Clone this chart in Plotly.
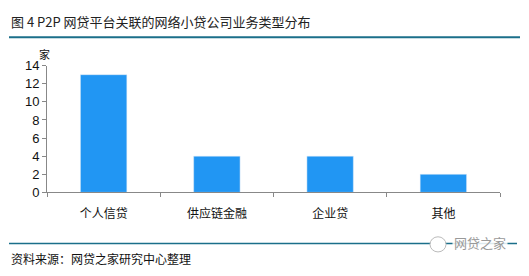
import plotly.graph_objects as go

categories = ["个人信贷", "供应链金融", "企业贷", "其他"]
values = [13, 4, 4, 2]
y_ticks = [0, 2, 4, 6, 8, 10, 12, 14]

W, H = 529, 276
def px(x): return x / W
def py(y): return 1 - y / H

CJK = "Noto Sans CJK SC"

fig = go.Figure(go.Bar(
    x=categories, y=values, marker_color="#2196F3", width=0.41,
    hoverinfo="skip"))

fig.update_layout(
    width=W, height=H, margin=dict(l=0, r=0, t=0, b=0),
    paper_bgcolor="white", plot_bgcolor="white", showlegend=False,
    xaxis=dict(domain=[px(47), px(500)], showline=True, linecolor="#888",
               linewidth=1, ticks="outside", tickson="boundaries", ticklen=4,
               tickcolor="#888", tickfont=dict(family=CJK, size=12, color="#111"),
               ticklabelstandoff=10,
               showgrid=False, fixedrange=True),
    yaxis=dict(domain=[py(196), py(62)], range=[0, 14], tickvals=y_ticks,
               showline=True, linecolor="#888", linewidth=1, ticks="outside",
               ticklen=4, tickcolor="#888", showgrid=False, zeroline=False,
               tickfont=dict(family="Liberation Sans, Arial", size=13, color="#111"),
               fixedrange=True),
)

fig.add_annotation(text="图 4 P2P 网贷平台关联的网络小贷公司业务类型分布", xref="paper", yref="paper",
                   x=px(9), y=py(15), xanchor="left", yanchor="middle", showarrow=False,
                   font=dict(family=CJK, size=13, color="#222"))
fig.add_annotation(text="家", xref="paper", yref="paper", x=px(44), y=py(50),
                   xanchor="center", yanchor="middle", showarrow=False,
                   font=dict(family=CJK, size=11, color="#111"))
fig.add_shape(type="line", xref="paper", yref="paper", x0=px(9), x1=px(520),
              y0=py(32), y1=py(32), line=dict(color="#1B6F8A", width=2))
fig.add_shape(type="line", xref="paper", yref="paper", x0=px(9), x1=px(517),
              y0=py(250), y1=py(250), line=dict(color="#1B6F8A", width=1.5))
fig.add_annotation(text="资料来源：网贷之家研究中心整理", xref="paper", yref="paper",
                   x=px(9), y=py(266), xanchor="left", yanchor="middle", showarrow=False,
                   font=dict(family=CJK, size=12, color="#111"))
# watermark
fig.add_shape(type="circle", xref="paper", yref="paper", x0=px(430), x1=px(446),
              y0=py(259), y1=py(243), line=dict(color="#bbb", width=1), fillcolor="white")
fig.add_annotation(text="网贷之家", xref="paper", yref="paper", x=px(452), y=py(249),
                   xanchor="left", yanchor="middle", showarrow=False, bgcolor="rgba(255,255,255,0.85)",
                   font=dict(family=CJK, size=13, color="#999"))

fig.write_html("out.html")
